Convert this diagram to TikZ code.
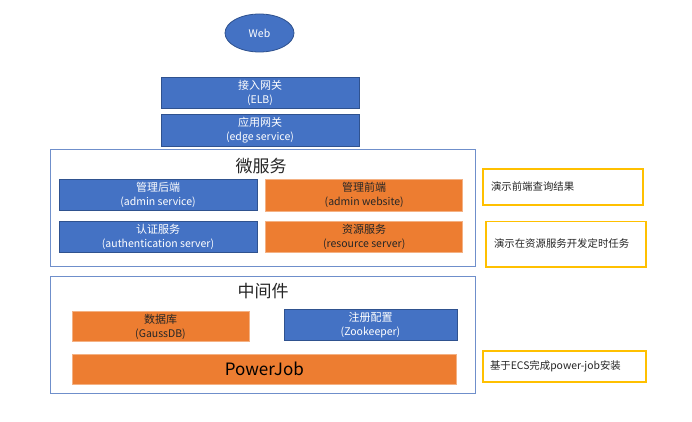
\documentclass[tikz,border=0pt]{standalone}
\usepackage{fontspec}
\usetikzlibrary{shapes.geometric}
\setmainfont{Noto Sans CJK SC}
\definecolor{bluefill}{HTML}{4472C4}
\definecolor{blueline}{HTML}{2F528F}
\definecolor{orangefill}{HTML}{ED7D31}
\definecolor{orangeline}{HTML}{F4B183}
\definecolor{frameline}{HTML}{6F8FCB}
\definecolor{yellowline}{HTML}{FFC000}
\definecolor{darktext}{HTML}{262626}
\newcommand\cnline[1]{{\fontsize{11}{14}\selectfont #1}}
\tikzset{
  bluebox/.style={rectangle, fill=bluefill, draw=blueline, line width=0.8pt, text=white, align=center, inner sep=0pt, font=\fontsize{10.5}{14}\selectfont},
  orangebox/.style={rectangle, fill=orangefill, draw=orangeline, line width=0.6pt, text=darktext, align=center, inner sep=0pt, font=\fontsize{10.5}{14}\selectfont},
  framebox/.style={rectangle, draw=frameline, line width=0.9pt, inner sep=0pt},
  notebox/.style={rectangle, draw=yellowline, line width=1.3pt, align=left, inner ysep=0pt, text=darktext, font=\fontsize{10.4}{12}\selectfont},
  titletext/.style={text=darktext, font=\fontsize{17}{19}\selectfont, inner sep=0pt}
}
\begin{document}
\begin{tikzpicture}[x=1pt,y=-1pt]
\useasboundingbox[fill=white] (0,0) rectangle (692,422);
% Web
\node[ellipse, fill=bluefill, draw=blueline, line width=0.8pt, minimum width=69pt, minimum height=38pt, inner sep=0pt, text=white, font=\fontsize{10.5}{12}\selectfont] (web) at (259.5,33) {Web};
% gateways
\node[bluebox, minimum width=198pt, minimum height=31pt] (elb) at (260,92.5) {\cnline{接入网关}\\(ELB)};
\node[bluebox, minimum width=198pt, minimum height=32pt] (edge) at (260,130) {\cnline{应用网关}\\(edge service)};
% microservices
\node[framebox, minimum width=425pt, minimum height=116.7pt] (micro) at (262.5,208.3) {};
\node[titletext] (microtitle) at (261,166) {微服务};
\node[bluebox, minimum width=198pt, minimum height=31.7pt] (adminsvc) at (158,195) {\cnline{管理后端}\\(admin service)};
\node[orangebox, minimum width=197pt, minimum height=31.7pt] (adminweb) at (364.2,195) {\cnline{管理前端}\\(admin website)};
\node[bluebox, minimum width=198pt, minimum height=31.3pt] (auth) at (158,236.6) {\cnline{认证服务}\\(authentication server)};
\node[orangebox, minimum width=197pt, minimum height=31.3pt] (res) at (364.2,236.6) {\cnline{资源服务}\\(resource server)};
% middleware
\node[framebox, minimum width=425pt, minimum height=117pt] (mid) at (262.5,334.5) {};
\node[titletext] (midtitle) at (263,291.5) {中间件};
\node[orangebox, minimum width=177pt, minimum height=30pt] (db) at (160.5,326.7) {\cnline{数据库}\\(GaussDB)};
\node[bluebox, minimum width=173pt, minimum height=31.7pt] (zk) at (370.5,325) {\cnline{注册配置}\\(Zookeeper)};
\node[orangebox, minimum width=384.7pt, minimum height=30pt, font=\fontsize{17}{20}\selectfont, text=black] (pj) at (264.3,369) {PowerJob};
% notes
\node[notebox, minimum width=160pt, minimum height=36pt, text width=144pt, inner xsep=8pt] (note1) at (563,187) {演示前端查询结果};
\node[notebox, minimum width=160pt, minimum height=45.7pt, text width=144pt, inner xsep=8pt] (note2) at (566,244) {演示在资源服务开发定时任务};
\node[notebox, minimum width=163pt, minimum height=31pt, text width=149pt, inner xsep=7pt] (note3) at (564.5,366.5) {基于ECS完成power-job安装};
\end{tikzpicture}
\end{document}
